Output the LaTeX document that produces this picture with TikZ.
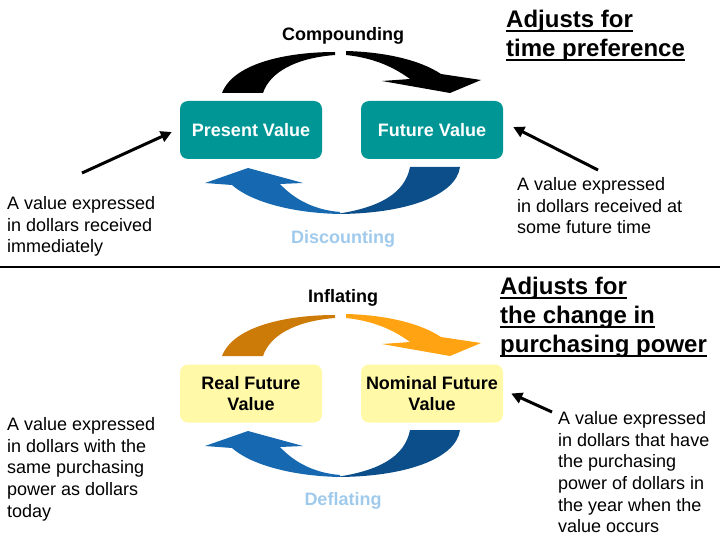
\documentclass[tikz,border=0pt]{standalone}
\usepackage{fontspec}
\setmainfont{Liberation Sans}
\newcommand{\myul}[1]{\setbox0\hbox{#1}\rlap{\rule[-5pt]{\wd0}{1.8pt}}\box0}
\usetikzlibrary{arrows.meta}
\definecolor{tealbox}{RGB}{0,150,150}
\definecolor{yelbox}{RGB}{255,249,168}
\definecolor{lblue}{RGB}{160,202,236}
\definecolor{blueL}{RGB}{22,104,176}
\definecolor{blueR}{RGB}{12,78,138}
\definecolor{orL}{RGB}{204,122,8}
\definecolor{orR}{RGB}{255,163,18}
\tikzset{
  box/.style={rounded corners=8pt, minimum width=142pt, minimum height=58pt, inner sep=0pt, align=center, font=\fontsize{18}{21}\selectfont\bfseries},
  tbox/.style={box, fill=tealbox, text=white},
  ybox/.style={box, fill=yelbox, text=black},
  cyc/.style={font=\fontsize{18}{21}\selectfont\bfseries, inner sep=0pt, anchor=base},
  note/.style={font=\fontsize{18}{21.6}\selectfont, align=left, inner sep=0pt, anchor=north west},
  adj/.style={font=\fontsize{24}{29}\selectfont\bfseries, align=left, inner sep=0pt, anchor=north west},
  ptr/.style={line width=3pt, -{Triangle[length=11pt,width=11pt]}}
}
\begin{document}
\begin{tikzpicture}[x=1pt,y=-1pt]
\useasboundingbox (0,0) rectangle (720,540);
% ---------- top half ----------
\node[tbox] (pv) at (251,130) {Present Value};
\node[tbox] (fv) at (432,130) {Future Value};
\node[cyc] (comp) at (343,40.5) {Compounding};
\node[cyc, text=lblue] (disc) at (343,243.5) {Discounting};
% black compounding arrow
\fill[black] (222,93) .. controls (234,62) and (290,52) .. (335,52) -- (335,55) .. controls (296,58) and (270,72) .. (263,93) -- cycle;
\fill[black] (346,51) .. controls (385,52) and (420,60) .. (441,74) -- (481,80) -- (450,93) -- (382,81) -- (410,79) .. controls (395,68) and (375,58) .. (346,55) -- cycle;
% blue discounting arrow
\fill[blueR] (410,167) -- (460,167) .. controls (456,196) and (405,214) .. (336,214) .. controls (378,208) and (405,194) .. (410,167) -- cycle;
\fill[blueL] (340,214) .. controls (290,213) and (250,201) .. (232,185) -- (205,183) -- (248,168) -- (303,183) -- (280,184) .. controls (295,200) and (315,210) .. (340,212) -- cycle;
\node[adj] (adj1) at (506,9.5) {\myul{Adjusts for}\\\myul{time preference}};
\node[note] (tl) at (7,196.5) {A value expressed\\in dollars received\\immediately};
\node[note] (tr) at (517,177.5) {A value expressed\\in dollars received at\\some future time};
\coordinate (tlt) at (82,173);
\coordinate (trt) at (598,170);
\draw[ptr] (tlt) -- ([shift={(-8,2)}]pv.west);
\draw[ptr] (trt) -- ([shift={(10,-3)}]fv.east);
% separator
\draw[line width=2.6pt] (0,267) -- (720,267);
% ---------- bottom half ----------
\begin{scope}[yshift=-263pt]
\fill[orL] (222,93) .. controls (234,62) and (290,52) .. (335,52) -- (335,55) .. controls (296,58) and (270,72) .. (263,93) -- cycle;
\fill[orR] (346,51) .. controls (385,52) and (420,60) .. (441,74) -- (481,80) -- (450,93) -- (382,81) -- (410,79) .. controls (395,68) and (375,58) .. (346,55) -- cycle;
\fill[blueR] (410,167) -- (460,167) .. controls (456,196) and (405,214) .. (336,214) .. controls (378,208) and (405,194) .. (410,167) -- cycle;
\fill[blueL] (340,214) .. controls (290,213) and (250,201) .. (232,185) -- (205,183) -- (248,168) -- (303,183) -- (280,184) .. controls (295,200) and (315,210) .. (340,212) -- cycle;
\end{scope}
\node[ybox] (rfv) at (251,393.5) {Real Future\\Value};
\node[ybox] (nfv) at (432,393.5) {Nominal Future\\Value};
\node[cyc] (infl) at (343,302.5) {Inflating};
\node[cyc, text=lblue] (defl) at (343,505.5) {Deflating};
\node[adj] (adj2) at (500,276.5) {\myul{Adjusts for}\\\myul{the change in}\\\myul{purchasing power}};
\node[note] (bl) at (7,417.5) {A value expressed\\in dollars with the\\same purchasing\\power as dollars\\today};
\node[note] (br) at (558,411.5) {A value expressed\\in dollars that have\\the purchasing\\power of dollars in\\the year when the\\value occurs};
\coordinate (brt) at (552,412);
\draw[ptr] (brt) -- ([shift={(8,0)}]nfv.east);
\end{tikzpicture}
\end{document}
